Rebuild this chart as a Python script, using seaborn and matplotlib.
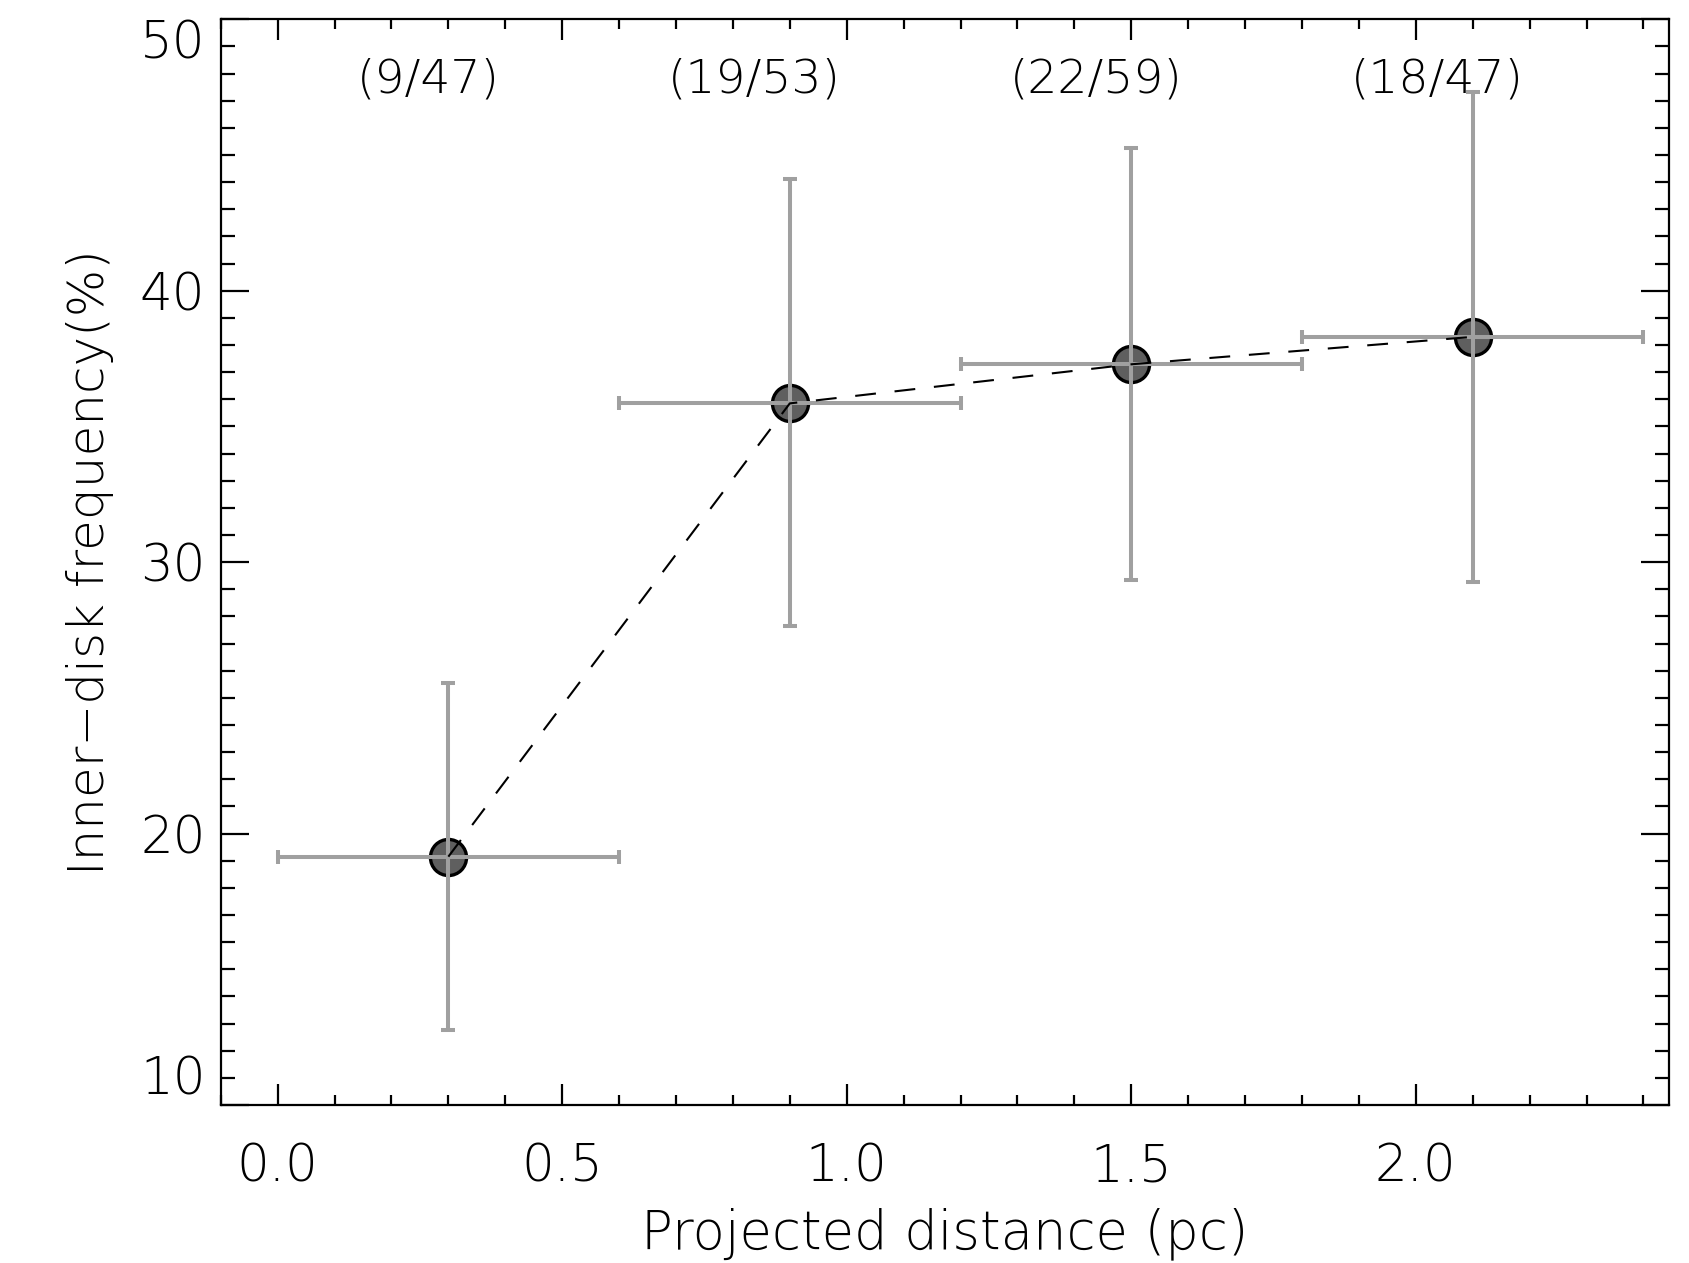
import matplotlib
matplotlib.use("Agg")
import matplotlib.pyplot as plt
import seaborn as sns
import pandas as pd
from matplotlib.ticker import MultipleLocator

# Data
distance = [0.3, 0.9, 1.5, 2.1]
frequency = [19.15, 35.85, 37.29, 38.30]
freq_low = [12.76, 27.65, 29.35, 29.27]
freq_high = [25.54, 44.12, 45.27, 47.33]
dist_err = [0.3, 0.3, 0.3, 0.3]
counts = ["(9/47)", "(19/53)", "(22/59)", "(18/47)"]

df = pd.DataFrame({"distance": distance, "frequency": frequency})

sns.set_theme(style="ticks")
plt.rcParams["font.family"] = ["DejaVu Sans"]
plt.rcParams["font.weight"] = "light"
plt.rcParams["text.color"] = "black"
plt.rcParams["axes.labelcolor"] = "black"
plt.rcParams["xtick.color"] = "black"
plt.rcParams["ytick.color"] = "black"

fig = plt.figure(figsize=(16.9, 12.63), dpi=100)
ax = fig.add_axes([0.1306, 0.1251, 0.9876 - 0.1306, 0.9847 - 0.1251])

# markers
sns.scatterplot(data=df, x="distance", y="frequency", ax=ax, s=26**2,
                color="#5f5f5f", edgecolor="black", linewidth=2.4, zorder=2,
                legend=False)

yerr = [[f - l for f, l in zip(frequency, freq_low)],
        [h - f for f, h in zip(frequency, freq_high)]]
ax.errorbar(distance, frequency, xerr=dist_err, yerr=yerr, fmt="none",
            ecolor="#a0a0a0", elinewidth=2.9, capsize=5, capthick=2.9, zorder=3)

sns.lineplot(data=df, x="distance", y="frequency", ax=ax, color="black",
             linewidth=1.5, dashes=False, zorder=4)
ax.lines[-1].set_dashes((10, 9))

for x, y, t in zip(distance, frequency, counts):
    ax.text(x + 0.09, 47.8, t, ha="right", va="center", fontsize=34,
            fontweight="light", color="black")

ax.set_xlim(-0.1, 2.445)
ax.set_ylim(10, 50)
ax.xaxis.set_major_locator(MultipleLocator(0.5))
ax.xaxis.set_minor_locator(MultipleLocator(0.1))
ax.yaxis.set_major_locator(MultipleLocator(10))
ax.yaxis.set_minor_locator(MultipleLocator(1))
ax.set_xticks([0.0, 0.5, 1.0, 1.5, 2.0])
ax.set_xticklabels(["0.0", "0.5", "1.0", "1.5", "2.0"])
ax.set_yticks([10, 20, 30, 40, 50])
ax.set_yticklabels(["10", "20", "30", "40", "50"])

ax.tick_params(axis="both", which="both", direction="in", top=True, right=True,
               color="black", labelcolor="black", width=1.6)
ax.tick_params(axis="x", which="major", length=15, pad=27, labelsize=37)
ax.tick_params(axis="x", which="minor", length=7.5)
ax.tick_params(axis="y", which="major", length=20, pad=11, labelsize=37)
ax.tick_params(axis="y", which="minor", length=10)
for lab in ax.get_yticklabels():
    lab.set_fontweight("light")
for lab in ax.get_xticklabels():
    lab.set_fontweight("light")
ylabs = ax.get_yticklabels()
ylabs[0].set_va("bottom")
ylabs[-1].set_va("top")

for s in ax.spines.values():
    s.set_linewidth(1.6)
    s.set_color("black")
    s.set_visible(True)

ax.set_xlabel("Projected distance (pc)", fontsize=38, fontweight="light",
              color="black")
ax.set_ylabel("Inner\u2212disk frequency(%)", fontsize=36, fontweight="light",
              color="black")
ax.xaxis.set_label_coords(0.5, -0.094)
ax.yaxis.set_label_coords(-0.074, 0.5)

fig.savefig("out.png", dpi=100, facecolor="white")
